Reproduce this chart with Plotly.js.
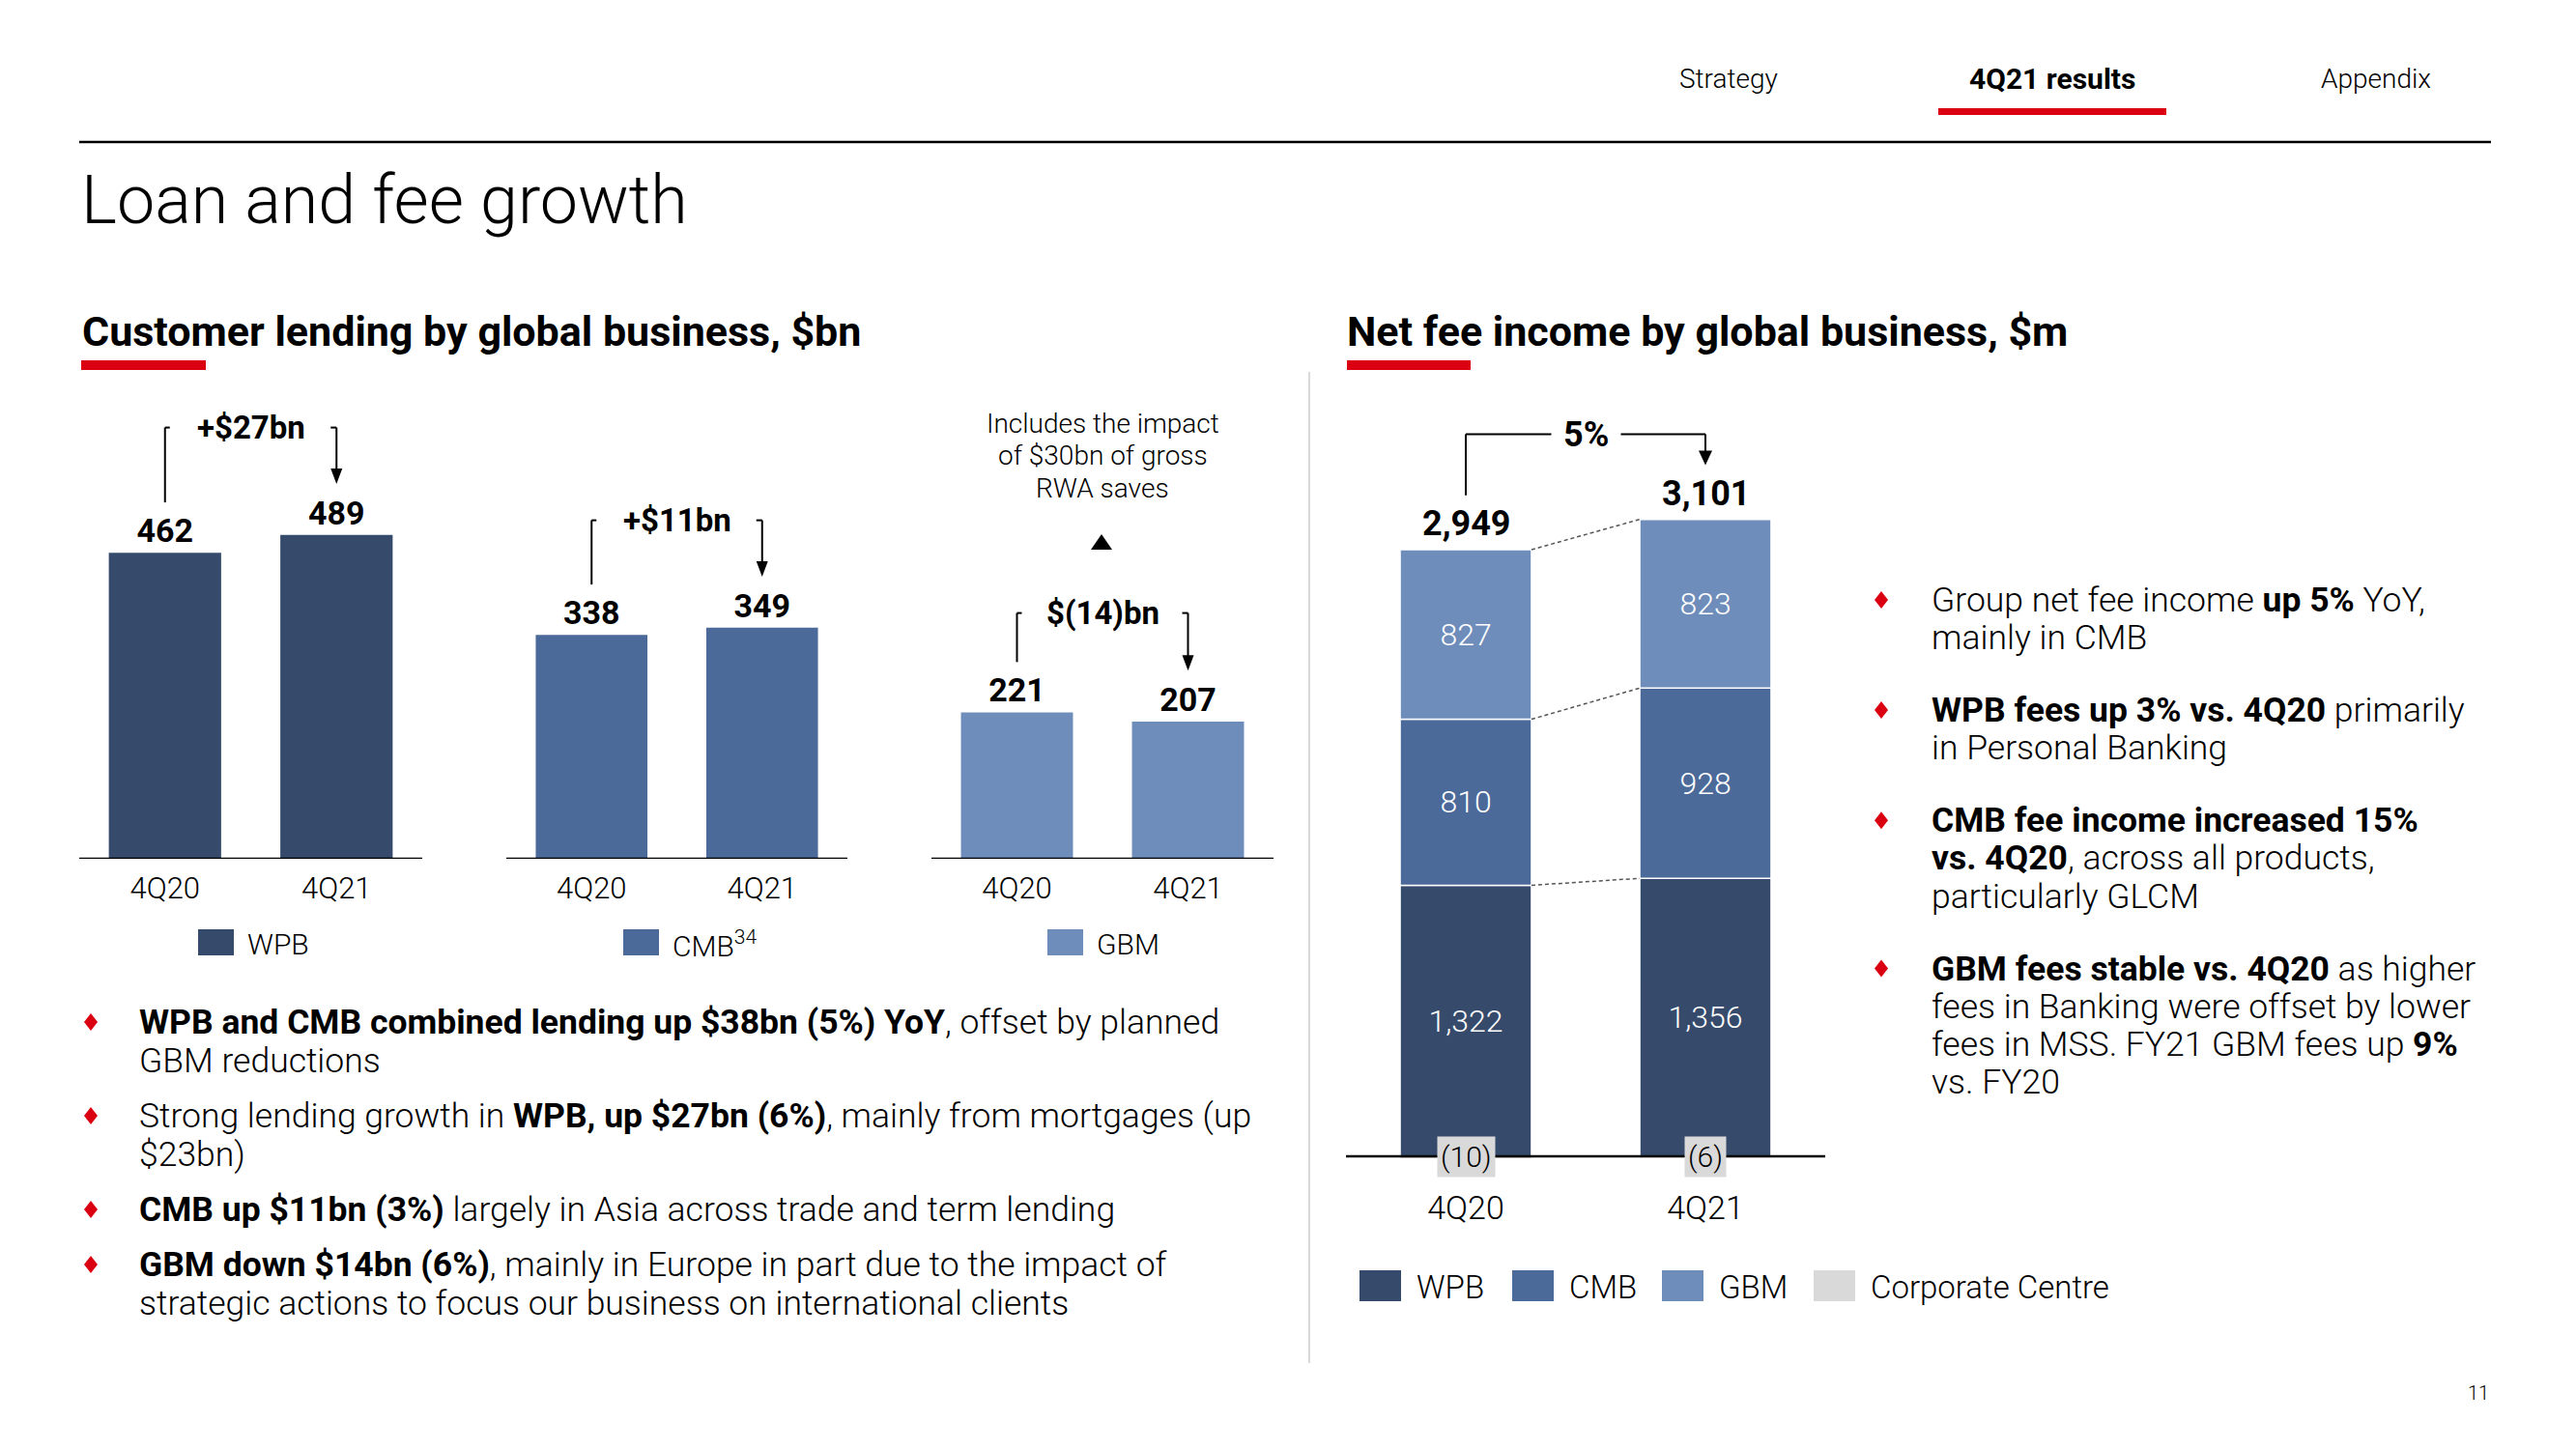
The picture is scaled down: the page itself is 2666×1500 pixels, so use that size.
<!DOCTYPE html>
<html>
<head>
<meta charset="utf-8">
<script src="https://cdn.plot.ly/plotly-3.0.1.min.js"></script>
<style>
html, body { margin: 0; padding: 0; background: #ffffff; }
#chart { width: 2666px; height: 1500px; }
</style>
</head>
<body>
<div id="chart"></div>
<script>
// ---------------- data ----------------
const quarters = ['4Q20', '4Q21'];
const businesses = ['WPB', 'CMB', 'GBM'];
const lendingWPB = [462, 489];
const lendingCMB = [338, 349];
const lendingGBM = [221, 207];
const lendingChange = ['+$27bn', '+$11bn', '$(14)bn'];
const lendingLegend = ['WPB', 'CMB<sup>34</sup>', 'GBM'];
const gbmNote = ['Includes the impact', 'of $30bn of gross', 'RWA saves'];

const feeSeries = ['WPB', 'CMB', 'GBM', 'Corporate Centre'];
const feeWPB = [1322, 1356];
const feeCMB = [810, 928];
const feeGBM = [827, 823];
const feeCorp = [-10, -6];
const feeGrowth = '5%';

const navItems = ['Strategy', '4Q21 results', 'Appendix'];
const pageTitle = 'Loan and fee growth';
const leftTitle = 'Customer lending by global business, $bn';
const rightTitle = 'Net fee income by global business, $m';
const pageNumber = '11';

const leftBullets = [
  ['<b>WPB and CMB combined lending up $38bn (5%) YoY</b>, offset by planned', 'GBM reductions'],
  ['Strong lending growth in <b>WPB, up $27bn (6%)</b>, mainly from mortgages (up', '$23bn)'],
  ['<b>CMB up $11bn (3%)</b> largely in Asia across trade and term lending'],
  ['<b>GBM down $14bn (6%)</b>, mainly in Europe in part due to the impact of', 'strategic actions to focus our business on international clients']
];
const rightBullets = [
  ['Group net fee income <b>up 5%</b> YoY,', 'mainly in CMB'],
  ['<b>WPB fees up 3% vs. 4Q20</b> primarily', 'in Personal Banking'],
  ['<b>CMB fee income increased 15%</b>', '<b>vs. 4Q20</b>, across all products,', 'particularly GLCM'],
  ['<b>GBM fees stable vs. 4Q20</b> as higher', 'fees in Banking were offset by lower', 'fees in MSS. FY21 GBM fees up <b>9%</b>', 'vs. FY20']
];

// ---------------- styling ----------------
const W = 2666, H = 1500;
const px = v => v / W;
const py = v => 1 - v / H;
const FONT = 'Roboto, "Open Sans", "Liberation Sans", sans-serif';
const RED = '#DB0011';
const colors = { 'WPB': '#364B6C', 'CMB': '#4B6A99', 'GBM': '#6E8DBA', 'Corporate Centre': '#D9D9D9' };

const annotations = [];
const shapes = [];
const traces = [];

function label(x, y, text, size, o) {
  o = o || {};
  annotations.push(Object.assign({
    xref: 'paper', yref: 'paper', x: px(x), y: py(y), text: text, showarrow: false,
    xanchor: o.xanchor || 'left', yanchor: 'middle',
    font: { family: FONT, size: size, color: o.color || '#000000', weight: o.weight || 300 }
  }, o.extra || {}));
}
function rect(x0, y0, x1, y1, color) {
  shapes.push({ type: 'rect', xref: 'paper', yref: 'paper', x0: px(x0), x1: px(x1), y0: py(y1), y1: py(y0),
    fillcolor: color, line: { width: 0 }, layer: 'above' });
}
function pline(x0, y0, x1, y1, color, width) {
  shapes.push({ type: 'line', xref: 'paper', yref: 'paper', x0: px(x0), y0: py(y0), x1: px(x1), y1: py(y1),
    line: { color: color, width: width }, layer: 'above' });
}
function diamond(cx, cy) {
  const hw = 7, hh = 9;
  shapes.push({ type: 'path', xref: 'paper', yref: 'paper',
    path: `M ${px(cx)},${py(cy - hh)} L ${px(cx + hw)},${py(cy)} L ${px(cx)},${py(cy + hh)} L ${px(cx - hw)},${py(cy)} Z`,
    fillcolor: RED, line: { width: 0 } });
}

const layout = {
  width: W, height: H, margin: { l: 0, r: 0, t: 0, b: 0 },
  paper_bgcolor: '#ffffff', plot_bgcolor: 'rgba(0,0,0,0)',
  barmode: 'relative', showlegend: false, font: { family: FONT, color: '#000000' }
};

// ---------------- header ----------------
const navX = [1789, 2124, 2459];
navItems.forEach((t, i) => label(navX[i], 82, i === 1 ? '<b>' + t + '</b>' : t, i === 1 ? 30 : 28, { xanchor: 'center' }));
rect(2006, 112, 2242, 119, RED);
pline(82, 147, 2578, 147, '#000000', 2.5);
label(82, 207, pageTitle, 70);
label(83, 343, '<b>' + leftTitle + '</b>', 43);
label(1392, 343, '<b>' + rightTitle + '</b>', 43);
rect(84, 373, 213, 383, RED);
rect(1394, 373, 1522, 383, RED);
pline(1355, 385, 1355, 1411, '#D9D9D9', 2);
label(2578, 1442, pageNumber, 20, { xanchor: 'right' });

// ---------------- left: customer lending ----------------
const lendingSets = [lendingWPB, lendingCMB, lendingGBM];
const leftDomains = [[82, 437], [524, 877], [964, 1318]];
const leftLegendX = [205, 645, 1084];
const LEFT_BW = 0.655;

lendingSets.forEach((vals, i) => {
  const n = i === 0 ? '' : String(i + 1);
  const xa = 'x' + n, ya = 'y' + n;
  traces.push({
    type: 'bar', name: businesses[i], x: [0, 1], y: vals, xaxis: xa, yaxis: ya, width: LEFT_BW,
    marker: { color: colors[businesses[i]] },
    text: vals.map(String), textposition: 'outside', cliponaxis: false,
    textfont: { family: FONT, size: 34, color: '#000000', weight: 700 }, hoverinfo: 'skip'
  });
  layout['xaxis' + n] = {
    domain: [px(leftDomains[i][0]), px(leftDomains[i][1])], anchor: ya, range: [-0.5, 1.5],
    tickmode: 'array', tickvals: [0, 1], ticktext: quarters,
    showgrid: false, zeroline: false, showline: false, ticks: '',
    tickfont: { family: FONT, size: 31, color: '#000000', weight: 300 }, ticklabelstandoff: 9, fixedrange: true
  };
  layout['yaxis' + n] = { domain: [py(889), py(409)], anchor: xa, range: [0, 700], visible: false, fixedrange: true };

  shapes.push({ type: 'line', xref: xa + ' domain', yref: ya, x0: 0, x1: 1, y0: 0, y1: 0,
    line: { color: '#000000', width: 2.5 }, layer: 'above' });

  // change bracket
  const top = Math.max(...vals) + (vals[1] < vals[0] ? 150 : 162);
  const lBottom = vals[0] + 76, tip = vals[1] + 77;
  const ln = { color: '#000000', width: 2 };
  shapes.push({ type: 'line', xref: xa, yref: ya, x0: 0, x1: 0, y0: lBottom, y1: top, line: ln });
  shapes.push({ type: 'line', xref: xa, yref: ya, xsizemode: 'pixel', xanchor: 0, x0: 0, x1: 5, y0: top, y1: top, line: ln });
  shapes.push({ type: 'line', xref: xa, yref: ya, xsizemode: 'pixel', xanchor: 1, x0: -6, x1: 0, y0: top, y1: top, line: ln });
  shapes.push({ type: 'line', xref: xa, yref: ya, x0: 1, x1: 1, y0: top, y1: tip + 8, line: ln });
  shapes.push({ type: 'path', xref: xa, yref: ya, xsizemode: 'pixel', ysizemode: 'pixel', xanchor: 1, yanchor: tip,
    path: 'M -6,16 L 6,16 L 0,0 Z', fillcolor: '#000000', line: { width: 0 } });
  annotations.push({ xref: xa, yref: ya, x: 0.5, y: top, text: '<b>' + lendingChange[i] + '</b>', showarrow: false,
    xanchor: 'center', yanchor: 'middle', font: { family: FONT, size: 33, color: '#000000' } });

  // legend key
  rect(leftLegendX[i], 962, leftLegendX[i] + 37, 989, colors[businesses[i]]);
  label(leftLegendX[i] + 49, 977, lendingLegend[i], 30);
});

// GBM note
gbmNote.forEach((t, j) => {
  annotations.push({ xref: 'x3', yref: 'paper', x: 0.5, y: py(438 + j * 33.5), text: t, showarrow: false,
    xanchor: 'center', yanchor: 'middle', font: { family: FONT, size: 28, color: '#000000', weight: 300 } });
});
shapes.push({ type: 'path', xref: 'paper', yref: 'paper',
  path: `M ${px(1129)},${py(569)} L ${px(1151)},${py(569)} L ${px(1140)},${py(553)} Z`, fillcolor: '#000000', line: { width: 0 } });

// ---------------- right: net fee income ----------------
const feeSets = [feeWPB, feeCMB, feeGBM, feeCorp];
const RIGHT_BW = 0.548;
feeSets.forEach((vals, k) => {
  const tr = {
    type: 'bar', name: feeSeries[k], x: [0, 1], y: vals, xaxis: 'x4', yaxis: 'y4', width: RIGHT_BW,
    marker: { color: colors[feeSeries[k]], line: { color: '#ffffff', width: k === 3 ? 0 : 1.5 } },
    hoverinfo: 'skip'
  };
  if (k < 3) {
    Object.assign(tr, { texttemplate: '%{y:,}', textposition: 'inside', insidetextanchor: 'middle', textangle: 0,
      textfont: { family: FONT, size: 32, color: '#ffffff', weight: 300 } });
  } else {
    tr.textposition = 'none';
  }
  traces.push(tr);
});
layout.xaxis4 = {
  domain: [px(1393), px(1889)], anchor: 'y4', range: [-0.5, 1.5],
  tickmode: 'array', tickvals: [0, 1], ticktext: quarters,
  showgrid: false, zeroline: false, showline: false, ticks: '',
  tickfont: { family: FONT, size: 34, color: '#000000', weight: 300 }, ticklabelstandoff: 9, fixedrange: true
};
layout.yaxis4 = { domain: [py(1218.2), py(411.8)], anchor: 'x4', range: [-100, 3700], visible: false, fixedrange: true };
shapes.push({ type: 'line', xref: 'x4 domain', yref: 'y4', x0: 0, x1: 1, y0: 0, y1: 0,
  line: { color: '#000000', width: 2.5 }, layer: 'above' });

const sumAt = (arrs, i) => arrs.reduce((s, a) => s + a[i], 0);
// dashed connectors between segment tops
[[feeWPB], [feeWPB, feeCMB], [feeWPB, feeCMB, feeGBM]].forEach(level => {
  traces.push({ type: 'scatter', mode: 'lines', x: [RIGHT_BW / 2, 1 - RIGHT_BW / 2], y: [sumAt(level, 0), sumAt(level, 1)],
    xaxis: 'x4', yaxis: 'y4', line: { color: '#555555', width: 1.5, dash: '4px,3px' }, hoverinfo: 'skip' });
});

const stackTops = [0, 1].map(i => sumAt([feeWPB, feeCMB, feeGBM], i));
const totals = [0, 1].map(i => sumAt(feeSets, i));
totals.forEach((t, i) => {
  annotations.push({ xref: 'x4', yref: 'y4', x: i, y: stackTops[i], yshift: 27, text: '<b>' + t.toLocaleString('en-US') + '</b>',
    showarrow: false, xanchor: 'center', yanchor: 'middle', font: { family: FONT, size: 36, color: '#000000' } });
});
feeCorp.forEach((v, i) => {
  annotations.push({ xref: 'x4', yref: 'y4', x: i, y: 0, yshift: -1, text: '(' + Math.abs(v) + ')', showarrow: false,
    xanchor: 'center', yanchor: 'middle', bgcolor: colors['Corporate Centre'], borderpad: 3,
    font: { family: FONT, size: 30, color: '#000000', weight: 300 } });
});

// growth bracket
const gTop = Math.max(...stackTops) + 415;
const gl = { color: '#000000', width: 2 };
shapes.push({ type: 'line', xref: 'x4', yref: 'y4', x0: 0, x1: 0, y0: stackTops[0] + 265, y1: gTop, line: gl });
shapes.push({ type: 'line', xref: 'x4', yref: 'y4', x0: 0, x1: 1, y0: gTop, y1: gTop, line: gl });
shapes.push({ type: 'line', xref: 'x4', yref: 'y4', x0: 1, x1: 1, y0: gTop, y1: stackTops[1] + 300, line: gl });
shapes.push({ type: 'path', xref: 'x4', yref: 'y4', xsizemode: 'pixel', ysizemode: 'pixel', xanchor: 1, yanchor: stackTops[1] + 265,
  path: 'M -7,15 L 7,15 L 0,0 Z', fillcolor: '#000000', line: { width: 0 } });
annotations.push({ xref: 'x4', yref: 'y4', x: 0.5, y: gTop, text: '<b>' + feeGrowth + '</b>', showarrow: false,
  xanchor: 'center', yanchor: 'middle', bgcolor: '#ffffff', borderpad: 12, font: { family: FONT, size: 36, color: '#000000' } });

// right legend
const rLegSq = [1407, 1565, 1720, 1877];
feeSeries.forEach((s, k) => {
  rect(rLegSq[k], 1315, rLegSq[k] + 43, 1347, colors[s]);
  label(rLegSq[k] + 57, 1332, s, 33);
});

// ---------------- bullets ----------------
function bullets(list, dx, tx, y0, lineH, gap, size) {
  let y = y0;
  list.forEach(lines => {
    diamond(dx, y);
    lines.forEach(t => { label(tx, y, t, size); y += lineH; });
    y += gap;
  });
}
bullets(leftBullets, 94, 142, 1058, 40, 17, 35.5);
bullets(rightBullets, 1947, 1997, 621, 39.3, 35.5, 35.5);

layout.annotations = annotations;
layout.shapes = shapes;

Plotly.newPlot('chart', traces, layout, { staticPlot: true, displayModeBar: false });
</script>
</body>
</html>
